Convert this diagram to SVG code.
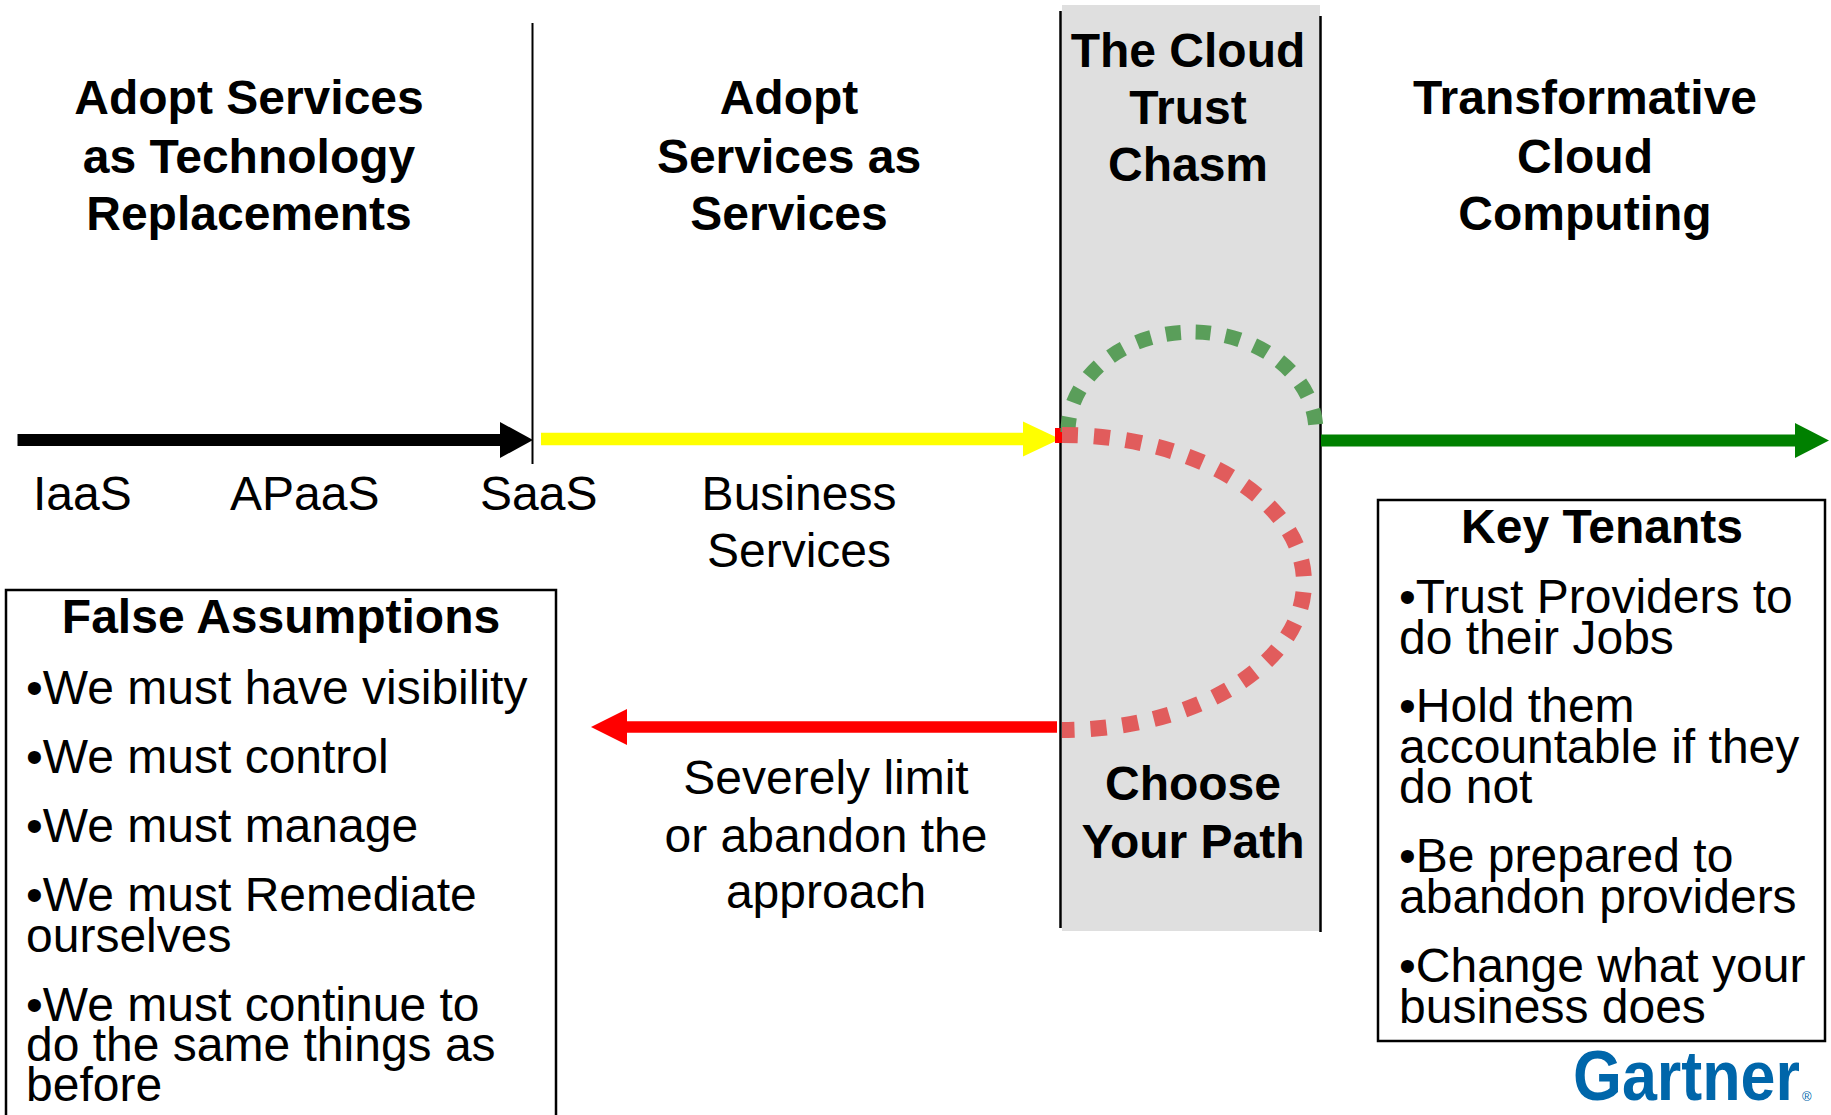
<svg xmlns="http://www.w3.org/2000/svg" width="1831" height="1115" viewBox="0 0 1831 1115">
<style>
text{font-family:"Liberation Sans",Arial,Helvetica,sans-serif;fill:#000}
.h{font-size:48px;font-weight:bold;text-anchor:middle}
.r{font-size:48px}
.c{text-anchor:middle}
.box{fill:#fff;stroke:#000;stroke-width:2.5}
.vline{stroke:#000;stroke-width:2.5;fill:none}
</style>
<rect width="1831" height="1115" fill="#fff"/>

<g id="chasm">
<rect x="1062" y="5" width="258" height="926" fill="#dfdfdf"/>
<line class="vline" x1="1060.5" y1="11" x2="1060.5" y2="928"/>
<line class="vline" x1="1320.5" y1="16" x2="1320.5" y2="932"/>
<text class="h" x="1188" y="67">The Cloud</text>
<text class="h" x="1188" y="124">Trust</text>
<text class="h" x="1188" y="181">Chasm</text>
<text class="h" x="1193" y="800">Choose</text>
<text class="h" x="1193" y="858">Your Path</text>
</g>

<g id="divider">
<line x1="532.5" y1="23" x2="532.5" y2="464" stroke="#000" stroke-width="2"/>
</g>

<g id="heading-tech">
<text class="h" x="249" y="114">Adopt Services</text>
<text class="h" x="249" y="173">as Technology</text>
<text class="h" x="249" y="230">Replacements</text>
</g>

<g id="heading-services">
<text class="h" x="789" y="114">Adopt</text>
<text class="h" x="789" y="173">Services as</text>
<text class="h" x="789" y="230">Services</text>
</g>

<g id="heading-transformative">
<text class="h" x="1585" y="114">Transformative</text>
<text class="h" x="1585" y="173">Cloud</text>
<text class="h" x="1585" y="230">Computing</text>
</g>

<g id="labels">
<text class="r" x="33" y="510">IaaS</text>
<text class="r" x="230" y="510">APaaS</text>
<text class="r" x="480" y="510">SaaS</text>
<text class="r c" x="799" y="510">Business</text>
<text class="r c" x="799" y="567">Services</text>
<text class="r c" x="826" y="794">Severely limit</text>
<text class="r c" x="826" y="852">or abandon the</text>
<text class="r c" x="826" y="908">approach</text>
</g>

<g id="connectors">
<line x1="17.5" y1="440" x2="502" y2="440" stroke="#000" stroke-width="12"/>
<polygon points="500,422 533,440 500,458" fill="#000"/>
<line x1="541" y1="439" x2="1025" y2="439" stroke="#ffff00" stroke-width="12.5"/>
<polygon points="1023,421.5 1060,439 1023,456.5" fill="#ffff00"/>
<line x1="1321" y1="440.5" x2="1797" y2="440.5" stroke="#008000" stroke-width="12"/>
<polygon points="1795,423 1829,440.5 1795,458" fill="#008000"/>
<line x1="1057" y1="727" x2="625" y2="727" stroke="#ff0000" stroke-width="11.5"/>
<polygon points="627,709 591,727 627,745" fill="#ff0000"/>
<rect x="1055" y="428" width="9" height="15" fill="#ff0000"/>
<path d="M1068 432 A124 100 0 0 1 1316 432" fill="none" stroke="#5a9e5a" stroke-width="15" stroke-dasharray="15 15"/>
<path d="M1062 435 A242 147.5 0 0 1 1062 730" fill="none" stroke="#e15c5c" stroke-width="16" stroke-dasharray="16 16"/>
</g>

<g id="false-assumptions">
<rect class="box" x="6" y="590" width="550" height="560"/>
<text class="h" x="281" y="633">False Assumptions</text>
<text class="r" x="26" y="704">•We must have visibility</text>
<text class="r" x="26" y="773">•We must control</text>
<text class="r" x="26" y="842">•We must manage</text>
<text class="r" x="26" y="911">•We must Remediate</text>
<text class="r" x="26" y="952">ourselves</text>
<text class="r" x="26" y="1021">•We must continue to</text>
<text class="r" x="26" y="1061">do the same things as</text>
<text class="r" x="26" y="1101">before</text>
</g>

<g id="key-tenants">
<rect class="box" x="1378" y="500" width="447" height="541"/>
<text class="h" x="1602" y="543">Key Tenants</text>
<text class="r" x="1399" y="613">•Trust Providers to</text>
<text class="r" x="1399" y="654">do their Jobs</text>
<text class="r" x="1399" y="722">•Hold them</text>
<text class="r" x="1399" y="763">accountable if they</text>
<text class="r" x="1399" y="803">do not</text>
<text class="r" x="1399" y="872">•Be prepared to</text>
<text class="r" x="1399" y="913">abandon providers</text>
<text class="r" x="1399" y="982">•Change what your</text>
<text class="r" x="1399" y="1023">business does</text>
</g>

<g id="gartner-logo">
<text x="1573" y="1100" font-size="70" font-weight="bold" fill="#0066aa" style="fill:#0066aa" textLength="227" lengthAdjust="spacingAndGlyphs">Gartner</text>
<text x="1802" y="1101" font-size="13" style="fill:#0066aa">®</text>
</g>
</svg>
